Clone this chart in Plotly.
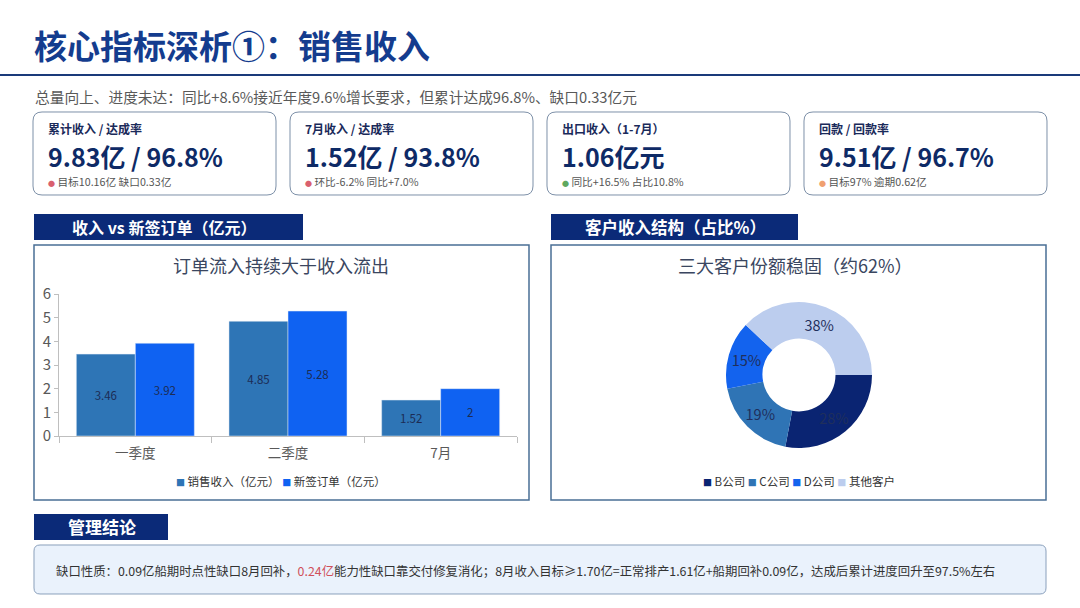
import plotly.graph_objects as go

# === DATA ===
quarters = ['一季度', '二季度', '7月']
sales_rev = [3.46, 4.85, 1.52]
new_orders = [3.92, 5.28, 2]
bar_names = ['销售收入（亿元）', '新签订单（亿元）']

client_labels = ['B公司', 'C公司', 'D公司', '其他客户']
client_share = [28, 19, 15, 38]

kpi_titles = ['累计收入 / 达成率', '7月收入 / 达成率', '出口收入（1-7月）', '回款 / 回款率']
kpi_values = ['9.83亿 / 96.8%', '1.52亿 / 93.8%', '1.06亿元', '9.51亿 / 96.7%']
kpi_notes = ['目标10.16亿 缺口0.33亿', '环比-6.2% 同比+7.0%', '同比+16.5% 占比10.8%', '目标97% 逾期0.62亿']
kpi_dots = ['#d9606e', '#d9606e', '#5fa85f', '#f0a070']

# === STYLE ===
W, H = 1080, 608
FONT = 'Noto Sans CJK SC'
navy = '#0b2a78'
title_blue = '#143c8e'
c_sales = '#2e75b6'
c_orders = '#0f62f2'
pie_colors = ['#0a2472', '#2f74b5', '#1363ee', '#bccdee']


def px(x):
    return x / W


def py(y):
    return 1 - y / H


def rounded_rect(x0, y0, x1, y1, r):
    # path in paper coords, inputs in pixels
    pts = [
        ('M', x0 + r, y0), ('L', x1 - r, y0), ('Q', x1, y0, x1, y0 + r),
        ('L', x1, y1 - r), ('Q', x1, y1, x1 - r, y1), ('L', x0 + r, y1),
        ('Q', x0, y1, x0, y1 - r), ('L', x0, y0 + r), ('Q', x0, y0, x0 + r, y0)
    ]
    out = ''
    for p in pts:
        coords = p[1:]
        s = ' '.join(f'{px(coords[i]):.5f},{py(coords[i + 1]):.5f}' for i in range(0, len(coords), 2))
        out += f'{p[0]} {s} '
    return out + 'Z'


def text(x, y, s, size, color, anchor='left', bold=False):
    if bold:
        s = f'<b>{s}</b>'
    return dict(x=px(x), y=py(y), xref='paper', yref='paper', text=s, showarrow=False,
                xanchor=anchor, yanchor='middle', font=dict(size=size, color=color, family=FONT))


def legend_text(names, colors):
    parts = [f'<span style="color:{c};font-size:9px">■</span> {n}' for n, c in zip(names, colors)]
    return ' '.join(parts)


fig = go.Figure()

# Bar chart
for vals, name, col in [(sales_rev, bar_names[0], c_sales), (new_orders, bar_names[1], c_orders)]:
    fig.add_trace(go.Bar(
        x=quarters, y=vals, name=name,
        marker=dict(color=col), text=vals, textposition='inside',
        insidetextanchor='middle', textfont=dict(color='#1c2c55', size=11.5, family=FONT),
        showlegend=False
    ))

# Donut
fig.add_trace(go.Pie(
    labels=client_labels, values=client_share, hole=0.5, sort=False,
    direction='clockwise', rotation=90,
    marker=dict(colors=pie_colors, line=dict(color='white', width=0)),
    texttemplate='%{value}%', textposition='inside', insidetextorientation='horizontal',
    textfont=dict(color='#1f2f5c', size=14.5, family=FONT),
    domain=dict(x=[px(726), px(872)], y=[py(448), py(302)]),
    showlegend=False
))

shapes = []
ann = []

# Title and rule
ann.append(text(32, 45, '核心指标深析①：销售收入', 33, title_blue, bold=True))
shapes.append(dict(type='line', xref='paper', yref='paper', x0=0, x1=1, y0=py(75), y1=py(75),
                   line=dict(color='#1a3a7a', width=2)))
ann.append(text(33, 96, '总量向上、进度未达：同比+8.6%接近年度9.6%增长要求，但累计达成96.8%、缺口0.33亿元',
                14.7, '#595959'))

# KPI cards
card_x = [33, 290, 547, 804]
for i in range(4):
    x0 = card_x[i]
    shapes.append(dict(type='path', xref='paper', yref='paper', path=rounded_rect(x0, 112, x0 + 243, 195, 9),
                       line=dict(color='#7d90a8', width=1), fillcolor='white'))
    ann.append(text(x0 + 13, 128, kpi_titles[i], 12, '#1a2a5a', bold=True))
    ann.append(text(x0 + 13, 156, kpi_values[i], 25, '#0e2a66', bold=True))
    ann.append(text(x0 + 13, 181, f'<span style="color:{kpi_dots[i]};font-size:7px">●</span> {kpi_notes[i]}',
                    10.7, '#555555'))

# Section headers and chart boxes
headers = [(34, 303, '收入 vs 新签订单（亿元）', 70, 16), (551, 798, '客户收入结构（占比%）', 583, 16.5)]
for hx0, hx1, htxt, tx, fs in headers:
    shapes.append(dict(type='rect', xref='paper', yref='paper', x0=px(hx0), x1=px(hx1), y0=py(240), y1=py(214),
                       fillcolor=navy, line=dict(width=0)))
    ann.append(text(tx, 227, htxt, fs, 'white', bold=True))

for bx0, bx1 in [(34, 529), (551, 1046)]:
    shapes.append(dict(type='rect', xref='paper', yref='paper', x0=px(bx0), x1=px(bx1), y0=py(500), y1=py(245),
                       fillcolor='rgba(0,0,0,0)', line=dict(color='#4a6f95', width=1.5), layer='below'))

ann.append(text(281, 265, '订单流入持续大于收入流出', 18, '#3a4660', anchor='center'))
ann.append(text(795, 265, '三大客户份额稳固（约62%）', 18, '#3a4660', anchor='center'))

# legends drawn as text rows
ann.append(text(281, 481, legend_text(bar_names, [c_sales, c_orders]), 11.5, '#333333', anchor='center'))
ann.append(text(799, 481, legend_text(client_labels, pie_colors), 11.5, '#333333', anchor='center'))

# Management conclusion
shapes.append(dict(type='rect', xref='paper', yref='paper', x0=px(34), x1=px(168), y0=py(540), y1=py(514),
                   fillcolor=navy, line=dict(width=0)))
ann.append(text(66, 526, '管理结论', 17, 'white', bold=True))
shapes.append(dict(type='path', xref='paper', yref='paper', path=rounded_rect(34, 545, 1046, 594, 6),
                   line=dict(color='#8aa0bc', width=1), fillcolor='#eaf2fc'))
ann.append(text(54, 571,
                '缺口性质：0.09亿船期时点性缺口8月回补，<span style="color:#d0505a">0.24亿</span>能力性缺口靠交付修复消化；'
                '8月收入目标≥1.70亿=正常排产1.61亿+船期回补0.09亿，达成后累计进度回升至97.5%左右',
                12.4, '#333333'))

fig.update_layout(
    width=W, height=H, margin=dict(l=0, r=0, t=0, b=0, autoexpand=False),
    paper_bgcolor='white', plot_bgcolor='rgba(0,0,0,0)',
    font=dict(family=FONT),
    barmode='group', bargap=0.227, bargroupgap=0,
    xaxis=dict(domain=[px(59), px(517)], showgrid=False, showline=True, linecolor='#bfbfbf',
               ticks='outside', tickson='boundaries', ticklen=6, tickcolor='#bfbfbf',
               ticklabelstandoff=5, automargin=False,
               tickfont=dict(size=13.5, color='#595959', family=FONT)),
    yaxis=dict(domain=[py(436), py(294)], range=[0, 6], dtick=1, showgrid=False, showline=True,
               linecolor='#bfbfbf', ticks='outside', ticklen=4, tickcolor='#bfbfbf', zeroline=False,
               automargin=False, tickfont=dict(size=15, color='#595959', family=FONT)),
    shapes=shapes, annotations=ann, showlegend=False
)

# pin the graph to the top-left corner of the page
pin = ("document.body.style.margin='0';"
       "var gd=document.getElementById('{plot_id}');"
       "gd.style.position='fixed';gd.style.top='0';gd.style.left='0';")
fig.write_html("out.html", post_script=pin, config={'displayModeBar': False})
